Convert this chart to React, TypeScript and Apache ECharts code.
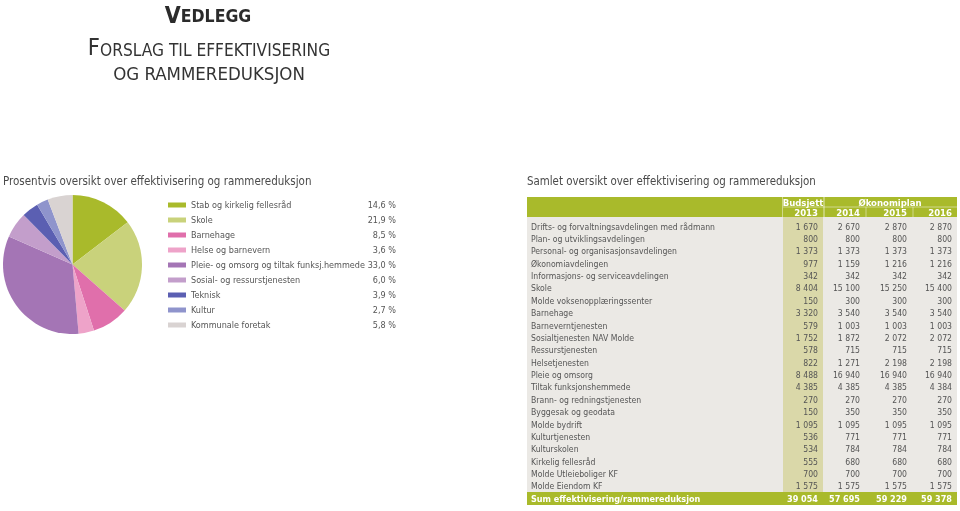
import React, { useEffect, useRef } from "react";
import * as echarts from "echarts";

const pieNames = [
  "Stab og kirkelig fellesråd",
  "Skole",
  "Barnehage",
  "Helse og barnevern",
  "Pleie- og omsorg og tiltak funksj.hemmede",
  "Sosial- og ressurstjenesten",
  "Teknisk",
  "Kultur",
  "Kommunale foretak",
];
const piePercents = [14.6, 21.9, 8.5, 3.6, 33.0, 6.0, 3.9, 2.7, 5.8];
const pieColors = [
  "#a9ba2b", "#c9d27b", "#e06fab", "#eea3c9", "#a475b5",
  "#c39ecb", "#5b5fb2", "#8f94cc", "#d9d3d2",
];

const rowNames = [
  "Drifts- og forvaltningsavdelingen med rådmann",
  "Plan- og utviklingsavdelingen",
  "Personal- og organisasjonsavdelingen",
  "Økonomiavdelingen",
  "Informasjons- og serviceavdelingen",
  "Skole",
  "Molde voksenopplæringssenter",
  "Barnehage",
  "Barneverntjenesten",
  "Sosialtjenesten NAV Molde",
  "Ressurstjenesten",
  "Helsetjenesten",
  "Pleie og omsorg",
  "Tiltak funksjonshemmede",
  "Brann- og redningstjenesten",
  "Byggesak og geodata",
  "Molde bydrift",
  "Kulturtjenesten",
  "Kulturskolen",
  "Kirkelig fellesråd",
  "Molde Utleieboliger KF",
  "Molde Eiendom KF",
];
const budget2013 = [1670, 800, 1373, 977, 342, 8404, 150, 3320, 579, 1752, 578, 822, 8488, 4385, 270, 150, 1095, 536, 534, 555, 700, 1575];
const plan2014 = [2670, 800, 1373, 1159, 342, 15100, 300, 3540, 1003, 1872, 715, 1271, 16940, 4385, 270, 350, 1095, 771, 784, 680, 700, 1575];
const plan2015 = [2870, 800, 1373, 1216, 342, 15250, 300, 3540, 1003, 2072, 715, 2198, 16940, 4385, 270, 350, 1095, 771, 784, 680, 700, 1575];
const plan2016 = [2870, 800, 1373, 1216, 342, 15400, 300, 3540, 1003, 2072, 715, 2198, 16940, 4384, 270, 350, 1095, 771, 784, 680, 700, 1575];
const yearLabels = ["2013", "2014", "2015", "2016"];
const sumLabel = "Sum effektivisering/rammereduksjon";
const sumValues = [39054, 57695, 59229, 59378];

const FONT = "'Liberation Sans Narrow', 'DejaVu Sans Condensed', Roboto, sans-serif";
const GREEN = "#a9ba2b";
const TXT = "#555555";

function fmt(n: number): string {
  const s = String(n);
  return s.replace(/\B(?=(\d{3})+(?!\d))/g, " ");
}
function pct(v: number): string {
  return v.toFixed(1).replace(".", ",") + " %";
}

export default function App() {
  const ref = useRef<HTMLDivElement>(null);
  useEffect(() => {
    document.body.style.margin = "0";
    const chart = echarts.init(ref.current!, null, { renderer: "svg" });

    const tX0 = 527, tX1 = 957;
    const colRight = [818, 860, 907, 952];
    const colBox = [[783, 823], [825, 865], [867, 912], [914, 957]];
    const rowY0 = 226.5, rowStep = 12.38;
    const bodyTop = 217, bodyBottom = 492;
    const cols = [budget2013, plan2014, plan2015, plan2016];

    const g: any[] = [];
    // title
    g.push({
      type: "text", x: 208, y: 14,
      style: {
        text: "{a|V}{b|EDLEGG}", align: "center", verticalAlign: "middle",
        fontFamily: FONT,
        rich: {
          a: { fontSize: 23, fontWeight: "bold", fill: "#2b2b2b", fontFamily: FONT, verticalAlign: "bottom", lineHeight: 24 },
          b: { fontSize: 17.5, fontWeight: "bold", fill: "#2b2b2b", fontFamily: FONT, verticalAlign: "bottom", lineHeight: 24, padding: [0, 0, 1, 0] },
        },
      },
    });
    const titleRich = {
      a: { fontSize: 23.5, fill: "#333", fontFamily: FONT, verticalAlign: "bottom", lineHeight: 26 },
      b: { fontSize: 17.2, fill: "#333", fontFamily: FONT, verticalAlign: "bottom", lineHeight: 26, padding: [0, 0, 1, 0] },
      c: { fontSize: 18.5, fill: "#333", fontFamily: FONT, verticalAlign: "bottom", lineHeight: 26, padding: [0, 0, 1, 0] },
    };
    g.push({ type: "text", x: 209, y: 46, style: { text: "{a|F}{b|ORSLAG TIL EFFEKTIVISERING}", align: "center", verticalAlign: "middle", rich: titleRich } });
    g.push({ type: "text", x: 209, y: 71, style: { text: "{c|OG RAMMEREDUKSJON}", align: "center", verticalAlign: "middle", rich: titleRich } });

    g.push({ type: "text", x: 3, y: 181, style: { text: "Prosentvis oversikt over effektivisering og rammereduksjon", fontFamily: FONT, fontSize: 11.5, fill: "#4a4a4a", verticalAlign: "middle" } });
    g.push({ type: "text", x: 527, y: 181, style: { text: "Samlet oversikt over effektivisering og rammereduksjon", fontFamily: FONT, fontSize: 11.4, fill: "#4a4a4a", verticalAlign: "middle" } });

    // table backgrounds
    g.push({ type: "rect", shape: { x: tX0, y: 197, width: tX1 - tX0, height: bodyTop - 197 }, style: { fill: GREEN } });
    g.push({ type: "rect", shape: { x: tX0, y: bodyTop, width: tX1 - tX0, height: bodyBottom - bodyTop }, style: { fill: "#ebe9e5" } });
    g.push({ type: "rect", shape: { x: colBox[0][0], y: bodyTop, width: colBox[0][1] - colBox[0][0], height: bodyBottom - bodyTop }, style: { fill: "#dad8a9" } });
    g.push({ type: "rect", shape: { x: tX0, y: bodyBottom, width: tX1 - tX0, height: 13 }, style: { fill: GREEN } });
    // header separators
    const sep = "rgba(255,255,255,0.45)";
    g.push({ type: "line", shape: { x1: 783, y1: 207, x2: tX1, y2: 207 }, style: { stroke: sep, lineWidth: 1 } });
    g.push({ type: "line", shape: { x1: 782.5, y1: 197, x2: 782.5, y2: 217 }, style: { stroke: sep, lineWidth: 1 } });
    g.push({ type: "line", shape: { x1: 824, y1: 197, x2: 824, y2: 217 }, style: { stroke: sep, lineWidth: 1.5 } });
    g.push({ type: "line", shape: { x1: 866, y1: 207, x2: 866, y2: 217 }, style: { stroke: sep, lineWidth: 1 } });
    g.push({ type: "line", shape: { x1: 913, y1: 207, x2: 913, y2: 217 }, style: { stroke: sep, lineWidth: 1 } });

    const hdr = { fontFamily: FONT, fontSize: 9.5, fontWeight: "bold", fill: "#ffffff", verticalAlign: "middle" };
    g.push({ type: "text", x: 803, y: 202, style: { ...hdr, text: "Budsjett", align: "center" } });
    g.push({ type: "text", x: 890, y: 202, style: { ...hdr, text: "Økonomiplan", align: "center" } });
    yearLabels.forEach((yl, i) => {
      g.push({ type: "text", x: colRight[i], y: 212.5, style: { ...hdr, text: yl, align: "right" } });
    });

    const body = { fontFamily: FONT, fontSize: 8.6, fill: TXT, verticalAlign: "middle" };
    rowNames.forEach((nm, r) => {
      const y = rowY0 + r * rowStep;
      g.push({ type: "text", x: 531, y, style: { ...body, text: nm } });
      cols.forEach((c, i) => {
        g.push({ type: "text", x: colRight[i], y, style: { ...body, text: fmt(c[r]), align: "right" } });
      });
    });
    const sumY = bodyBottom + 6.5;
    g.push({ type: "text", x: 531, y: sumY, style: { ...hdr, fontSize: 9, text: sumLabel } });
    sumValues.forEach((v, i) => {
      g.push({ type: "text", x: colRight[i], y: sumY, style: { ...hdr, fontSize: 9, text: fmt(v), align: "right" } });
    });

    chart.setOption({
      animation: false,
      color: pieColors,
      legend: {
        orient: "vertical",
        left: 163,
        top: 192.5,
        icon: "rect",
        itemWidth: 18,
        itemHeight: 5,
        itemGap: 0,
        itemTextGap: 5,
        selectedMode: false,
        data: pieNames,
        formatter: (name: string) => {
          const i = pieNames.indexOf(name);
          return `{n|${name}}{p|${pct(piePercents[i])}}`;
        },
        textStyle: {
          fontFamily: FONT,
          fontSize: 9,
          color: TXT,
          lineHeight: 15,
          rich: {
            n: { width: 172, fontFamily: FONT, fontSize: 9, color: TXT, lineHeight: 15 },
            p: { width: 33, align: "right", fontFamily: FONT, fontSize: 9, color: TXT, lineHeight: 15 },
          },
        },
      },
      series: [
        {
          type: "pie",
          center: [72.5, 264.5],
          radius: 69.5,
          startAngle: 90,
          clockwise: true,
          silent: true,
          label: { show: false },
          labelLine: { show: false },
          itemStyle: { borderWidth: 0 },
          data: pieNames.map((n, i) => ({ name: n, value: piePercents[i] })),
        },
      ],
      graphic: g,
    });
    return () => chart.dispose();
  }, []);
  return <div ref={ref} style={{ position: "fixed", left: 0, top: 0, width: 960, height: 511 }} />;
}
